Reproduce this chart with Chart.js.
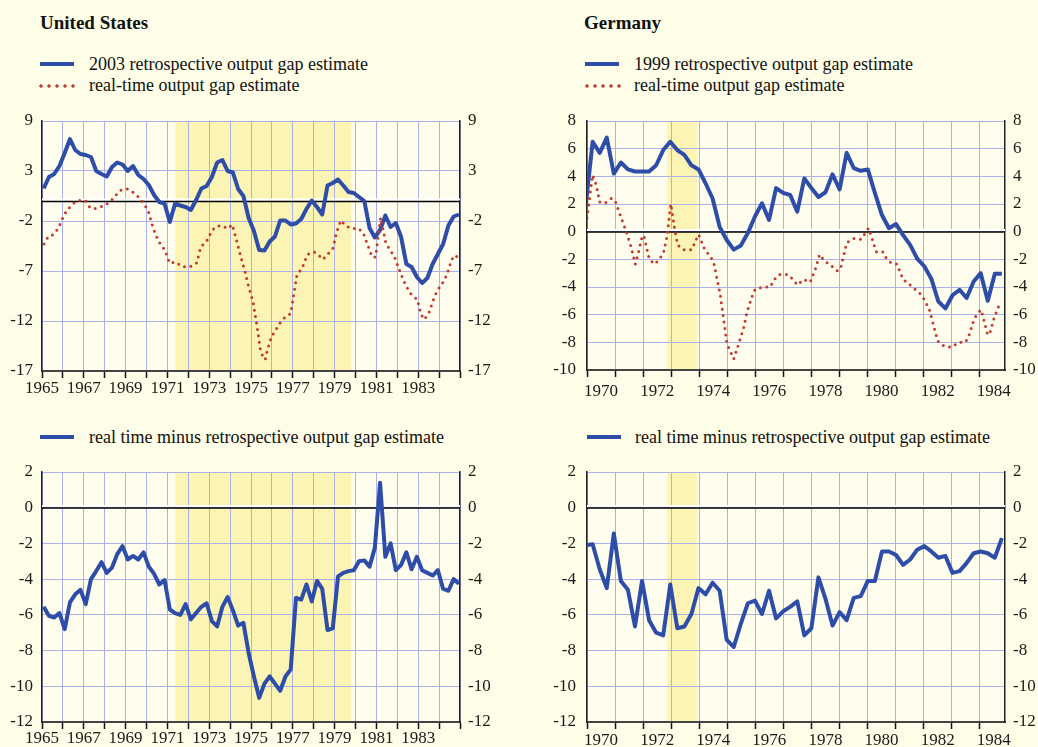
<!DOCTYPE html>
<html lang="en">
<head>
<meta charset="UTF-8" />
<title>Real-time and retrospective output gap estimates</title>
<script src="https://cdn.jsdelivr.net/npm/chart.js@4.4.1/dist/chart.umd.min.js"></script>
<style>
  body { margin: 0; width: 1038px; height: 747px; overflow: hidden; position: relative;
         background: #fefde7; color: #111; font-family: 'Liberation Serif', 'Times New Roman', serif; }
  .title { position: absolute; font-weight: bold; font-size: 19px; line-height: 19px; white-space: nowrap; }
  .leg { position: absolute; font-size: 18px; line-height: 18px; white-space: nowrap; }
  .bar { position: absolute; width: 34px; height: 4px; background: #2e4da8; }
  .dots { position: absolute; width: 40px; height: 4px;
          background: radial-gradient(circle at 4px 2px, #c23b2e 1.4px, transparent 1.9px) 0 0 / 8px 4px repeat-x; }
  canvas { position: absolute; }
</style>
</head>
<body>
<div class="title" style="left:40px;top:13px">United States</div>
<div class="bar" style="left:40px;top:62px"></div>
<div class="leg" style="left:89px;top:55px">2003 retrospective output gap estimate</div>
<div class="dots" style="left:37px;top:84px"></div>
<div class="leg" style="left:89px;top:76px">real-time output gap estimate</div>

<div class="title" style="left:584px;top:13px">Germany</div>
<div class="bar" style="left:585px;top:62px"></div>
<div class="leg" style="left:634px;top:55px">1999 retrospective output gap estimate</div>
<div class="dots" style="left:583px;top:84px"></div>
<div class="leg" style="left:634px;top:76px">real-time output gap estimate</div>

<div class="bar" style="left:40px;top:435px"></div>
<div class="leg" style="left:89px;top:428px">real time minus retrospective output gap estimate</div>
<div class="bar" style="left:587px;top:435px"></div>
<div class="leg" style="left:635px;top:428px">real time minus retrospective output gap estimate</div>

<!-- chart area starts 19px (US) / 21px (DE) below the canvas top: tick label half height + tick padding -->
<canvas id="usTop" width="500" height="309" style="left:0;top:102px"></canvas>
<canvas id="deTop" width="500" height="310" style="left:545px;top:100px"></canvas>
<canvas id="usBottom" width="500" height="309" style="left:0;top:453px"></canvas>
<canvas id="deBottom" width="500" height="311" style="left:545px;top:451px"></canvas>

<script>
// ---- data ----
const usYearLabels = ['1965', '1967', '1969', '1971', '1973', '1975', '1977', '1979', '1981', '1983'];
const deYearLabels = ['1970', '1972', '1974', '1976', '1978', '1980', '1982', '1984'];
const usTopYTicks = [-17, -12, -7, -2, 3, 8];
const usTopYLabels = ['-17', '-12', '-7', '-2', '3', '9'];

// quarterly observation dates
const usQuarters = Array.from({ length: 80 }, (_, i) => 1965.08 + i * 0.2515);
const deQuarters = Array.from({ length: 60 }, (_, i) => 1969.95 + i * 0.2515);

const usRetro = [1.25, 2.4, 2.7, 3.5, 4.8, 6.2, 5.1, 4.7, 4.6, 4.4,
  3.0, 2.7, 2.45, 3.4, 3.85, 3.65, 3.0, 3.5, 2.6, 2.2,
  1.6, 0.6, -0.1, -0.26, -2.1, -0.26, -0.45, -0.6, -0.9, 0.1,
  1.25, 1.5, 2.4, 3.85, 4.1, 3.0, 2.85, 1.2, 0.5, -1.7,
  -3.0, -4.9, -4.95, -4.05, -3.55, -1.95, -1.95, -2.35, -2.25, -1.8,
  -0.8, 0.05, -0.6, -1.35, 1.55, 1.8, 2.15, 1.55, 0.9, 0.8,
  0.4, 0.0, -2.7, -3.65, -2.9, -1.45, -2.6, -2.2, -3.6, -6.3,
  -6.6, -7.6, -8.2, -7.7, -6.3, -5.3, -4.3, -2.45, -1.55, -1.35];

const usRealDates = [1965.1, 1965.3, 1965.5, 1965.7, 1965.9, 1966.05, 1966.25, 1966.5, 1966.76, 1967.1,
  1967.3, 1967.56, 1967.93, 1968.25, 1968.5, 1968.73, 1969.08, 1969.4, 1969.7, 1969.93,
  1970.1, 1970.3, 1970.44, 1970.6, 1970.8, 1970.97, 1971.1, 1971.4, 1971.7, 1972.05,
  1972.4, 1972.6, 1972.88, 1973.04, 1973.25, 1973.56, 1973.9, 1974.1, 1974.3, 1974.5,
  1974.7, 1974.88, 1975.1, 1975.28, 1975.44, 1975.57, 1975.68, 1975.76, 1975.97, 1976.2,
  1976.4, 1976.64, 1976.9, 1977.2, 1977.44, 1977.7, 1978.03, 1978.2, 1978.45, 1978.7,
  1978.93, 1979.09, 1979.3, 1979.52, 1979.76, 1980.16, 1980.4, 1980.53, 1980.8, 1980.96,
  1981.2, 1981.45, 1981.64, 1981.87, 1982.0, 1982.28, 1982.43, 1982.67, 1982.96, 1983.12,
  1983.28, 1983.5, 1983.75, 1983.9, 1984.12, 1984.3, 1984.43, 1984.55, 1984.7, 1984.92];
const usReal = [-4.3, -3.55, -3.4, -2.95, -2.2, -1.4, -0.8, -0.25, 0.07, 0.0,
  -0.7, -0.75, -0.5, -0.1, 0.5, 1.05, 1.2, 0.8, 0.25, -0.45,
  -1.1, -2.6, -3.35, -4.1, -4.65, -5.4, -6.2, -6.1, -6.55, -6.6,
  -6.2, -4.6, -4.0, -3.35, -2.65, -2.45, -2.75, -2.35, -3.85, -5.5,
  -6.95, -8.5, -10.1, -12.4, -14.75, -15.6, -15.85, -15.1, -13.6, -12.85,
  -12.15, -11.6, -11.25, -7.35, -6.75, -5.35, -5.1, -5.35, -5.85, -5.25,
  -4.7, -3.15, -1.95, -2.45, -2.75, -2.75, -3.35, -4.1, -5.6, -5.6,
  -1.65, -4.2, -4.85, -5.6, -6.35, -7.85, -8.55, -9.35, -9.85, -11.25,
  -11.85, -11.25, -9.75, -9.0, -8.35, -7.7, -7.0, -6.2, -5.45, -5.6];

const usDiff = [-5.55, -6.05, -6.15, -5.9, -6.8, -5.3, -4.85, -4.6, -5.4, -4.0,
  -3.55, -3.05, -3.65, -3.35, -2.6, -2.15, -2.9, -2.7, -2.9, -2.5,
  -3.3, -3.7, -4.3, -4.05, -5.7, -5.9, -6.0, -5.4, -6.25, -5.9,
  -5.55, -5.35, -6.35, -6.65, -5.55, -5.0, -5.75, -6.6, -6.45, -8.15,
  -9.45, -10.65, -9.85, -9.45, -9.85, -10.25, -9.45, -9.05, -5.05, -5.15,
  -4.3, -5.25, -4.1, -4.55, -6.85, -6.75, -3.85, -3.65, -3.55, -3.5,
  -3.0, -2.95, -3.3, -2.25, 1.4, -2.75, -2.0, -3.5, -3.2, -2.5,
  -3.45, -2.75, -3.5, -3.65, -3.8, -3.5, -4.55, -4.65, -4.0, -4.25];

const deRetro = [1.8, 6.5, 5.7, 6.8, 4.2, 5.0, 4.5, 4.35, 4.35, 4.35,
  4.8, 5.9, 6.5, 5.9, 5.55, 4.8, 4.5, 3.5, 2.4, 0.35,
  -0.6, -1.3, -1.0, -0.1, 1.1, 2.05, 0.85, 3.15, 2.8, 2.65,
  1.45, 3.85, 3.15, 2.5, 2.85, 4.15, 3.05, 5.7, 4.6, 4.4,
  4.5, 2.8, 1.2, 0.25, 0.55, -0.25, -0.95, -1.95, -2.5, -3.4,
  -5.05, -5.55, -4.6, -4.2, -4.8, -3.6, -3.0, -5.0, -3.05, -3.05];

const deRealDates = [1970.0, 1970.2, 1970.33, 1970.45, 1970.63, 1970.87, 1971.0, 1971.2, 1971.4, 1971.58,
  1971.72, 1971.84, 1971.97, 1972.03, 1972.22, 1972.41, 1972.58, 1972.73, 1972.85, 1972.99,
  1973.12, 1973.23, 1973.44, 1973.74, 1973.86, 1973.98, 1974.18, 1974.35, 1974.51, 1974.75,
  1974.99, 1975.11, 1975.23, 1975.4, 1975.58, 1975.7, 1975.88, 1976.0, 1976.26, 1976.53,
  1976.68, 1976.87, 1977.15, 1977.34, 1977.5, 1977.72, 1977.96, 1978.14, 1978.29, 1978.46,
  1978.7, 1978.93, 1979.05, 1979.26, 1979.5, 1979.77, 1980.04, 1980.31, 1980.54, 1980.69,
  1980.87, 1981.05, 1981.27, 1981.49, 1981.71, 1981.94, 1982.2, 1982.5, 1982.74, 1983.01,
  1983.25, 1983.49, 1983.6, 1983.78, 1983.9, 1984.05, 1984.28, 1984.35, 1984.52, 1984.73];
const deReal = [1.0, 4.1, 3.4, 2.15, 2.05, 2.4, 2.25, 1.1, 0.0, -1.15,
  -2.35, -1.45, -0.3, -0.3, -2.0, -2.35, -2.0, -1.5, -0.35, 2.0,
  0.25, -0.95, -1.3, -1.3, -0.7, -0.2, -1.2, -1.7, -2.15, -4.55,
  -8.1, -8.65, -9.2, -8.15, -7.0, -5.85, -4.7, -4.15, -4.0, -4.0,
  -3.45, -3.1, -3.1, -3.45, -3.85, -3.45, -3.65, -2.7, -1.65, -2.1,
  -2.45, -2.85, -2.55, -0.8, -0.5, -0.55, 0.25, -1.45, -1.45, -2.0,
  -2.3, -2.35, -3.45, -3.8, -4.2, -4.6, -5.6, -7.9, -8.3, -8.35,
  -8.0, -8.0, -7.6, -6.45, -5.95, -5.65, -7.45, -7.4, -6.2, -5.1];

const deDiff = [-2.1, -2.05, -3.45, -4.5, -1.45, -4.1, -4.6, -6.65, -4.1, -6.3,
  -7.0, -7.15, -4.3, -6.75, -6.65, -5.95, -4.5, -4.85, -4.2, -4.65,
  -7.4, -7.8, -6.5, -5.35, -5.2, -5.95, -4.65, -6.2, -5.8, -5.55,
  -5.25, -7.15, -6.75, -3.9, -5.1, -6.6, -5.85, -6.3, -5.05, -4.95,
  -4.1, -4.1, -2.45, -2.45, -2.65, -3.2, -2.9, -2.35, -2.15, -2.45,
  -2.8, -2.7, -3.65, -3.55, -3.1, -2.55, -2.45, -2.55, -2.8, -1.7];

// shaded periods
const usShade = [1971.38, 1979.8];
const deShade = [1972.86, 1973.93];

// ---- styling ----
const GRID = '#abb0ea';
const BLUE = '#2e4da8';
const RED = '#c23b2e';
const FONT = { family: "'Liberation Serif', 'Times New Roman', serif", size: 17, lineHeight: '20px' };
const CLEAR = 'rgba(0,0,0,0)';

const pairs = (xs, ys) => ys.map((y, i) => ({ x: xs[i], y: y }));
const blueLine = (xs, ys) => ({ data: pairs(xs, ys), borderColor: BLUE, borderWidth: 4,
  pointRadius: 0, borderJoinStyle: 'round', clip: 0 });
const redDots = (xs, ys) => ({ data: pairs(xs, ys), borderColor: RED, borderWidth: 3,
  borderDash: [0, 6.5], borderCapStyle: 'round', pointRadius: 0, clip: 0 });

// plot background, shaded period and the zero line
const panelPlugin = {
  id: 'panel',
  beforeDraw(chart, args, opts) {
    const { ctx, chartArea: a, scales: { x } } = chart;
    ctx.save();
    ctx.fillStyle = '#fffeee';
    ctx.fillRect(a.left, a.top, a.width, a.height);
    const x0 = x.getPixelForValue(opts.shade[0]);
    const x1 = x.getPixelForValue(opts.shade[1]);
    ctx.fillStyle = '#fbf4b4';
    ctx.fillRect(x0, a.top, x1 - x0, a.height);
    ctx.restore();
  },
  beforeDatasetsDraw(chart) {
    const { ctx, chartArea: a, scales: { y } } = chart;
    const y0 = y.getPixelForValue(0);
    ctx.save();
    ctx.strokeStyle = '#ffffff';
    ctx.lineWidth = 2;
    ctx.beginPath(); ctx.moveTo(a.left, y0 - 1.6); ctx.lineTo(a.right, y0 - 1.6); ctx.stroke();
    ctx.strokeStyle = '#000000';
    ctx.lineWidth = 1.5;
    ctx.beginPath(); ctx.moveTo(a.left, y0 + 0.4); ctx.lineTo(a.right, y0 + 0.4); ctx.stroke();
    ctx.restore();
  }
};

function makePanel(id, p) {
  const yAxis = (pos) => ({
    type: 'linear', position: pos, min: p.yMin, max: p.yMax,
    afterBuildTicks: s => { s.ticks = p.yTicks.map(v => ({ value: v })); },
    afterFit: s => { s.width = pos === 'left' ? 42 : 40; },
    grid: pos === 'left'
      ? { color: c => (c.tick && c.tick.value === p.yMin) ? CLEAR : GRID, drawTicks: false }
      : { drawOnChartArea: false, drawTicks: false },
    border: { color: '#222', width: 1.5 },
    ticks: { font: FONT, color: '#1a1a1a', padding: pos === 'left' ? p.yPad : 8, callback: p.yLabel }
  });

  return new Chart(document.getElementById(id), {
    type: 'line',
    data: { datasets: p.datasets },
    plugins: [panelPlugin],
    options: {
      responsive: false,
      animation: false,
      devicePixelRatio: 1,
      layout: { padding: 0 },
      plugins: { legend: { display: false }, tooltip: { enabled: false }, panel: { shade: p.shade } },
      scales: {
        x: {
          type: 'linear', min: p.xMin, max: p.xMax,
          afterBuildTicks: s => { s.ticks = p.xTicks.map(v => ({ value: v })); },
          afterFit: s => { s.height = 40; },
          grid: {
            color: c => (c.tick && Number.isInteger(c.tick.value)) ? GRID : CLEAR,
            tickColor: c => (c.tick && Number.isInteger(c.tick.value)) ? '#111' : CLEAR,
            tickLength: 7,
            tickWidth: 1.5
          },
          border: { color: '#444', width: 2 },
          ticks: { font: FONT, color: '#1a1a1a', padding: p.labelPad, autoSkip: false,
                   maxRotation: 0, callback: p.xLabel }
        },
        y: yAxis('left'),
        y2: yAxis('right')
      }
    }
  });
}

const usXTicks = [];
for (let yr = 1965; yr <= 1985; yr++) usXTicks.push(yr);
const usXLabel = v => usYearLabels.includes(String(v)) ? String(v) : '';

const deXTicks = [];
for (let yr = 1970; yr <= 1984.5; yr += 0.5) deXTicks.push(yr);
const deXLabel = v => deYearLabels.includes(String(v - 0.5)) ? String(v - 0.5) : '';

const plainLabel = v => String(v);

function drawAll() {
  makePanel('usTop', {
    datasets: [redDots(usRealDates, usReal), blueLine(usQuarters, usRetro)],
    xMin: 1965, xMax: 1985, xTicks: usXTicks, xLabel: usXLabel, labelPad: 1,
    yMin: -17, yMax: 8, yTicks: usTopYTicks, yLabel: (v, i) => usTopYLabels[i], yPad: 9,
    shade: usShade
  });

  makePanel('deTop', {
    datasets: [redDots(deRealDates, deReal), blueLine(deQuarters, deRetro)],
    xMin: 1970, xMax: 1984.9, xTicks: deXTicks, xLabel: deXLabel, labelPad: 5,
    yMin: -10, yMax: 8, yTicks: [-10, -8, -6, -4, -2, 0, 2, 4, 6, 8], yLabel: plainLabel, yPad: 11,
    shade: deShade
  });

  makePanel('usBottom', {
    datasets: [blueLine(usQuarters, usDiff)],
    xMin: 1965, xMax: 1985, xTicks: usXTicks, xLabel: usXLabel, labelPad: 0,
    yMin: -12, yMax: 2, yTicks: [-12, -10, -8, -6, -4, -2, 0, 2], yLabel: plainLabel, yPad: 9,
    shade: usShade
  });

  makePanel('deBottom', {
    datasets: [blueLine(deQuarters, deDiff)],
    xMin: 1970, xMax: 1984.9, xTicks: deXTicks, xLabel: deXLabel, labelPad: 2,
    yMin: -12, yMax: 2, yTicks: [-12, -10, -8, -6, -4, -2, 0, 2], yLabel: plainLabel, yPad: 11,
    shade: deShade
  });
}

// make sure the serif face is ready before the canvases draw text
document.fonts.load("17px 'Liberation Serif'").then(drawAll, drawAll);
</script>
</body>
</html>
